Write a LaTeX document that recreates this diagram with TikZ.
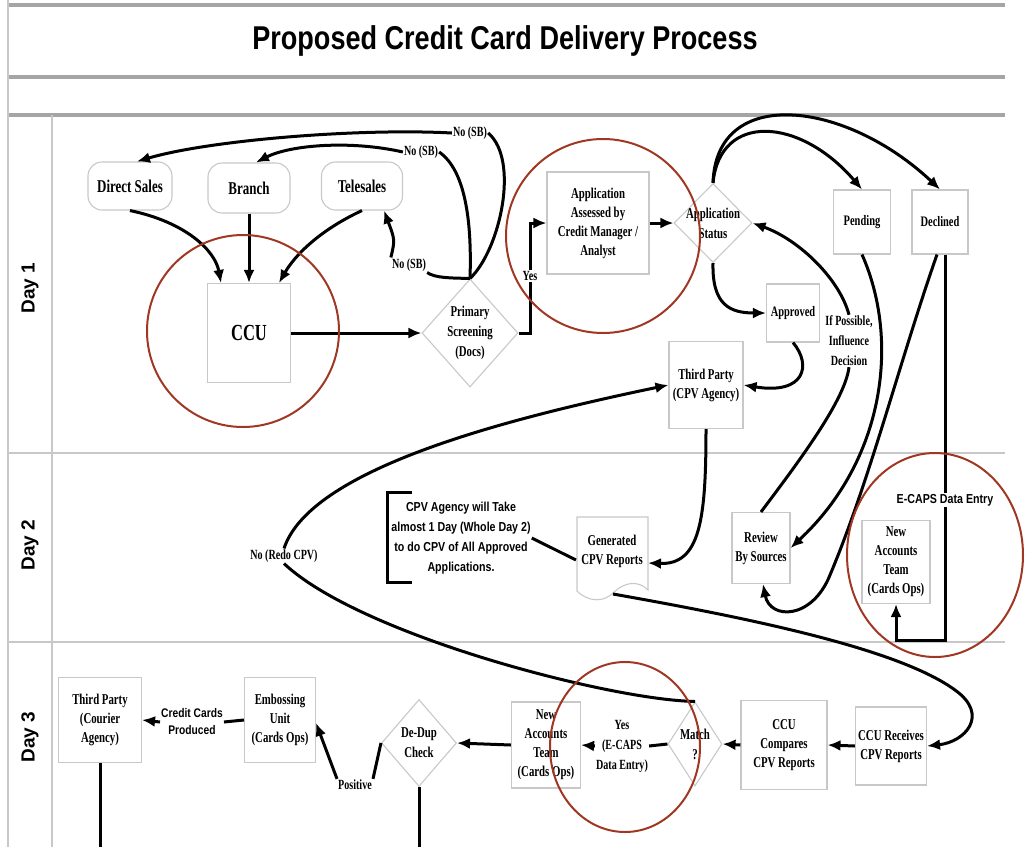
\documentclass[tikz,border=0pt]{standalone}
\usepackage{fontspec}
\usetikzlibrary{arrows.meta,shapes.geometric,calc}
\newfontfamily\tnr[FakeStretch=0.72]{Liberation Serif}
\newfontfamily\arn[FakeStretch=0.82]{Liberation Sans}
\newfontfamily\arw{Liberation Sans}
\definecolor{boxgray}{RGB}{200,200,200}
\definecolor{rulegray}{RGB}{165,165,165}
\definecolor{lanegray}{RGB}{200,200,200}
\definecolor{circred}{RGB}{160,55,35}
\tikzset{
  box/.style={draw=boxgray, line width=1.1pt, align=center, inner sep=1pt,
    font=\tnr\bfseries\fontsize{15}{19}\selectfont},
  sbox/.style={box, font=\tnr\bfseries\fontsize{14.5}{18}\selectfont},
  rbox/.style={box, rounded corners=14pt, font=\tnr\bfseries\fontsize{18}{22}\selectfont},
  dia/.style={draw=boxgray, line width=1.1pt, shape=diamond, inner sep=0pt},
  dtext/.style={align=center, inner sep=0pt, font=\tnr\bfseries\fontsize{15}{20}\selectfont},
  lbl/.style={align=center, fill=white, inner sep=1pt, font=\tnr\bfseries\fontsize{14}{20}\selectfont},
  slbl/.style={align=center, fill=white, inner sep=1pt, font=\arn\bfseries\fontsize{13}{20}\selectfont},
  conn/.style={line width=3pt, black},
  arr/.style={conn, -{Latex[length=13pt,width=11pt]}},
  redring/.style={draw=circred, line width=2pt},
  daylbl/.style={rotate=90, font=\arw\bfseries\fontsize{19}{21}\selectfont},
}
\begin{document}
\begin{tikzpicture}[x=1pt,y=-1pt]
\useasboundingbox (0,0) rectangle (1026,847);
% frame
\draw[rulegray, line width=4pt] (8,5) -- (1005,5);
\draw[rulegray, line width=4pt] (8,77) -- (1005,77);
\draw[rulegray, line width=4pt] (8,115) -- (1005,115);
\draw[lanegray, line width=2pt] (8,453) -- (1005,453);
\draw[lanegray, line width=2pt] (8,642) -- (1005,642);
\draw[lanegray, line width=1.5pt] (8,0) -- (8,847);
\draw[lanegray, line width=1.5pt] (52,115) -- (52,847);
\node[font=\arn\bfseries\fontsize{33}{36}\selectfont] (title) at (505,41) {Proposed Credit Card Delivery Process};
\node[daylbl] (d1) at (30,288) {Day 1};
\node[daylbl] (d2) at (30,545) {Day 2};
\node[daylbl] (d3) at (30,737) {Day 3};

% Day 1 nodes
\node[rbox, minimum width=84pt, minimum height=48pt] (ds) at (130,186) {Direct Sales};
\node[rbox, minimum width=82pt, minimum height=50pt] (br) at (249,188) {Branch};
\node[rbox, minimum width=81pt, minimum height=48pt] (ts) at (362,186) {Telesales};
\node[box, minimum width=83pt, minimum height=99pt, font=\tnr\bfseries\fontsize{23}{26}\selectfont] (ccu) at (249,333) {CCU};
\node[dia, minimum width=96pt, minimum height=108pt] (ps) at (470,333) {};
\node[dtext] (pst) at (ps) {Primary\\Screening\\(Docs)};
\node[box, minimum width=102pt, minimum height=102pt] (app) at (598,223) {Application\\Assessed by\\Credit Manager /\\Analyst};
\node[dia, minimum width=78pt, minimum height=79pt] (st) at (713,223) {};
\node[dtext] (stt) at (st) {Application\\Status};
\node[sbox, minimum width=57pt, minimum height=64pt] (pend) at (862,222) {Pending};
\node[sbox, minimum width=56pt, minimum height=64pt] (dec) at (940,222) {Declined};
\node[sbox, minimum width=53pt, minimum height=58pt] (appr) at (793,313) {Approved};
\node[box, minimum width=74pt, minimum height=87pt] (tp) at (706,385) {Third Party\\(CPV Agency)};

% Day 2 nodes
\node[box, draw=none, minimum width=71pt, minimum height=62pt] (gen) at (612,551) {Generated\\CPV Reports};
\draw[boxgray, line width=1.1pt] (577,517) -- (648,517) -- (648,590)
  .. controls (638,580) and (625,582) .. (614,592)
  .. controls (604,603) and (588,602) .. (577,591) -- cycle;
\coordinate (genb) at (613,594);
\node[slbl, fill=none] (note) at (461,538) {CPV Agency will Take\\almost 1 Day (Whole Day 2)\\to do CPV of All Approved\\Applications.};
\draw[line width=3pt] (412,492) -- (387,492) -- (387,582) -- (412,582);
\node[box, minimum width=58pt, minimum height=71pt] (rev) at (761,548) {Review\\By Sources};
\node[box, minimum width=68pt, minimum height=83pt] (nat2) at (896,562) {New\\Accounts\\Team\\(Cards Ops)};

% Day 3 nodes
\node[box, minimum width=71pt, minimum height=78pt] (ccur) at (891,746) {CCU Receives\\CPV Reports};
\node[box, minimum width=86pt, minimum height=89pt] (ccuc) at (784,745) {CCU\\Compares\\CPV Reports};
\node[dia, minimum width=54pt, minimum height=84pt] (m) at (695,744) {};
\node[dtext] (mt) at (m) {Match\\?};
\node[box, minimum width=69pt, minimum height=86pt] (nat3) at (546,745) {New\\Accounts\\Team\\(Cards Ops)};
\node[dia, minimum width=75pt, minimum height=87pt] (dd) at (419,743) {};
\node[dtext] (ddt) at (dd) {De-Dup\\Check};
\node[box, minimum width=71pt, minimum height=85pt] (emb) at (280,720) {Embossing\\Unit\\(Cards Ops)};
\node[box, minimum width=83pt, minimum height=85pt] (cour) at (100,720) {Third Party\\(Courier\\Agency)};

% labels
\node[lbl] (nsb1) at (470,133) {No (SB)};
\node[lbl] (nsb2) at (421,152) {No (SB)};
\node[lbl] (nsb3) at (409,265) {No (SB)};
\node[lbl] (ifp) at (849,341) {If Possible,\\Influence\\Decision};
\node[lbl] (nrc) at (284,556) {No (Redo CPV)};
\node[lbl] (yes) at (622,746) {Yes\\(E-CAPS\\Data Entry)};
\node[lbl] (pos) at (355,785) {Positive};
\node[slbl, font=\arn\bfseries\fontsize{12.5}{17}\selectfont] (ccp) at (192,722) {Credit Cards\\Produced};

% Day 1 connectors
\draw[arr] (ds.south) .. controls (185,222) and (215,250) .. ([xshift=-28pt]ccu.north);
\draw[arr] (br.south) -- (ccu.north);
\draw[arr] (ts.south) .. controls (320,230) and (295,255) .. ([xshift=30pt]ccu.north);
\draw[arr] (ccu.east) -- (ps.west);
\draw[conn] (ps.north) .. controls (500,250) and (520,160) .. (nsb1.east);
\draw[arr] (nsb1.west) .. controls (360,128) and (210,140) .. ([xshift=7pt]ds.north);
\draw[conn] (ps.north) .. controls (472,220) and (465,170) .. (nsb2.east);
\draw[arr] (nsb2.west) .. controls (350,140) and (290,145) .. ([xshift=7pt]br.north);
\draw[conn] (ps.north) .. controls (450,278) and (435,278) .. (nsb3.south east);
\draw[arr] (nsb3.north west) .. controls (395,240) .. ([xshift=22pt]ts.south);
\draw[arr] (ps.east) -- ++(12pt,0) |- (app.west);
\node[lbl] (yesps) at (530,276) {Yes};
\draw[arr] (app.east) -- (st.west);
\draw[arr] (st.north) .. controls (720,112) and (800,117) .. (pend.north);
\draw[arr] (st.north) .. controls (716,85) and (845,100) .. (dec.north);
\draw[arr] (st.south) .. controls (712,305) and (730,313) .. (appr.west);
\draw[arr] (appr.south) .. controls (812,365) and (805,395) .. (tp.east);
\draw[conn] (rev.north) .. controls (800,460) and (845,400) .. (ifp.south);
\draw[arr] (ifp.north) .. controls (840,280) and (800,240) .. (st.east);
\draw[arr] (pend.south) .. controls (900,340) and (885,460) .. (rev.east);
\draw[arr] ([xshift=-3pt]dec.south) .. controls (900,360) and (870,480) .. (830,575)
   .. controls (812,620) and (770,620) .. ([xshift=2pt]rev.south);
\coordinate (ecorner) at (945,640);
\draw[arr] ([xshift=5pt]dec.south) -- (ecorner) -| (nat2.south);
\node[slbl] (ecaps) at (945,500) {E-CAPS Data Entry};

% Day 2 connectors
\draw[arr] (tp.south) .. controls (706,520) and (700,565) .. ([yshift=-12pt]gen.east);
\draw[conn] (note.east) -- ([yshift=-9pt]gen.west);
\draw[arr] (genb) .. controls (760,620) and (900,650) .. (955,690)
   .. controls (990,715) and (965,742) .. (ccur.east);
\draw[conn] (m.north) .. controls (610,700) and (360,635) .. (nrc.south);
\draw[arr] (nrc.north) .. controls (310,470) and (500,420) .. (tp.west);

% Day 3 connectors
\draw[arr] (ccur.west) -- (ccuc.east);
\draw[arr] (ccuc.west) -- (m.east);
\draw[conn] (m.west) -- (yes.east);
\draw[arr] (yes.west) -- (nat3.east);
\draw[arr] (nat3.west) -- (dd.east);
\draw[conn] (dd.west) -- (pos.north east);
\draw[arr] (pos.north west) -- ([yshift=-3pt]emb.east);
\draw[conn] (emb.west) -- (ccp.east);
\draw[arr] (ccp.west) -- (cour.east);
\coordinate (courb) at (100,847);
\coordinate (ddb) at (419,847);
\draw[conn] (cour.south) -- (courb);
\draw[conn] (dd.south) -- (ddb);

% annotation rings
\draw[redring] (243,331) circle[radius=96pt];
\draw[redring] (603,236) circle[radius=97pt];
\draw[redring] (935,555) ellipse[x radius=88pt, y radius=102pt];
\draw[redring] (625,747) ellipse[x radius=75pt, y radius=85pt];
\end{tikzpicture}
\end{document}
